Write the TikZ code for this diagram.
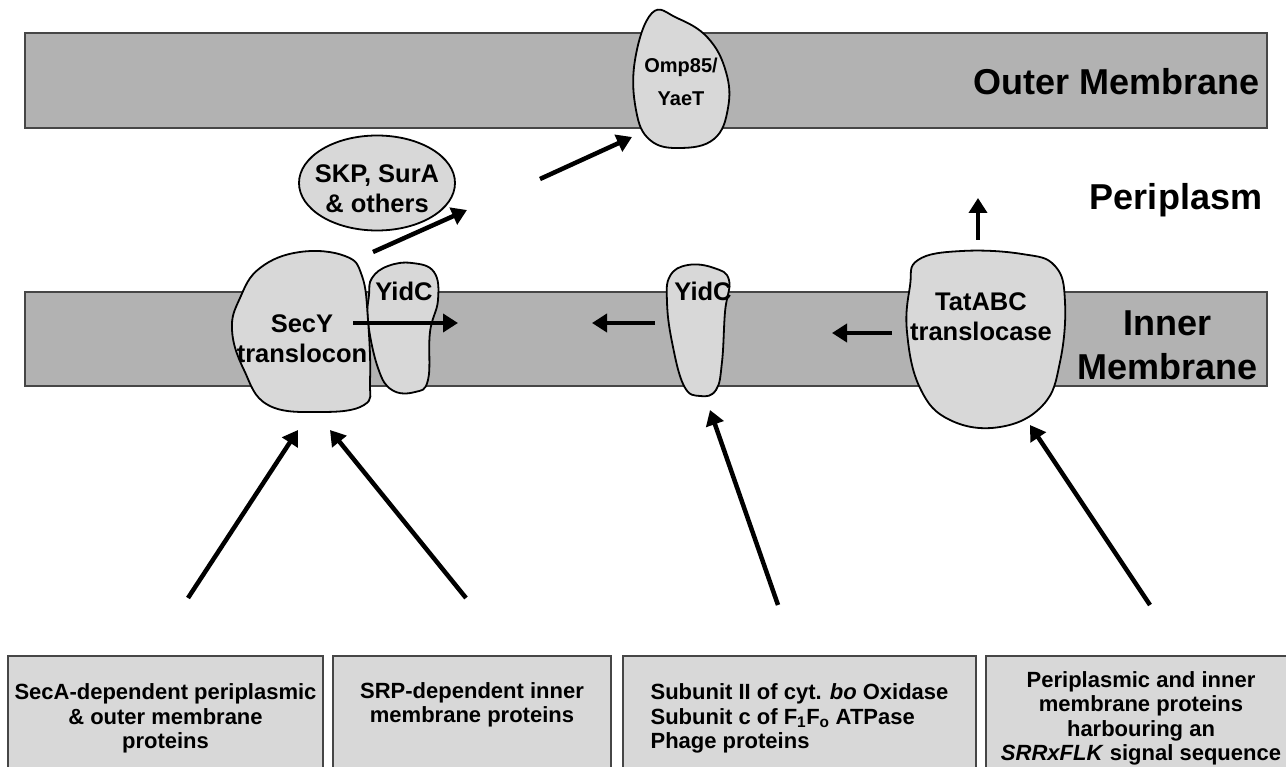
\documentclass[tikz,border=0pt]{standalone}
\usepackage{fontspec}
\setmainfont{Liberation Sans}
\usetikzlibrary{arrows.meta,positioning,shapes.geometric}
\definecolor{mbgray}{RGB}{178,178,178}
\definecolor{protgray}{RGB}{216,216,216}
\definecolor{edgegray}{RGB}{70,70,70}

\begin{document}
\begin{tikzpicture}[x=1pt,y=-1pt,
  membrane/.style={fill=mbgray,draw=edgegray,line width=2pt},
  protein/.style={fill=protgray,draw=black,line width=1.8pt},
  lbl/.style={font=\bfseries\fontsize{25.5}{30}\selectfont,align=center,inner sep=0pt},
  big/.style={font=\bfseries\fontsize{36}{44}\selectfont,align=center,inner sep=0pt},
  srcbox/.style={fill=protgray,draw=edgegray,line width=2pt,anchor=north west,
    minimum height=125pt,inner sep=2pt,font=\bfseries\fontsize{22}{24.5}\selectfont},
  flow/.style={-{Triangle[length=15pt,width=18pt]},line width=4.5pt}]
  \useasboundingbox (0,0) rectangle (1286,767);
  % membranes
  \draw[membrane] (25,33) rectangle (1267,128);
  \draw[membrane] (25,292) rectangle (1267,386);
  % proteins
  \draw[protein] plot[smooth cycle,tension=0.7] coordinates {(652,13) (677,18) (708,38) (726,72)
    (728,108) (714,139) (680,148) (650,140) (636,110) (635,60)};
  \node[protein,ellipse,minimum width=156pt,minimum height=95pt] (skp) at (377,183) {};
  \draw[protein] plot[smooth cycle,tension=0.7] coordinates {(372,278) (388,266) (412,263) (434,272)
    (438,300) (430,332) (428,380) (415,392) (392,390) (378,368) (368,322) (369,295)};
  \draw[protein] plot[smooth cycle,tension=0.7] coordinates {(240,298) (260,268) (300,252) (345,256)
    (362,276) (368,320) (370,380) (364,405) (320,412) (268,405) (244,370) (232,330)};
  \draw[protein] plot[smooth cycle,tension=0.7] coordinates {(670,276) (688,265) (714,268) (729,280)
    (725,312) (722,362) (716,390) (700,396) (684,386) (672,342) (667,302)};
  \draw[protein] plot[smooth cycle,tension=0.7] coordinates {(918,260) (962,251) (1022,254) (1055,266)
    (1065,302) (1060,362) (1043,405) (1000,427) (950,420) (920,388) (907,332) (910,286)};
  % protein names
  \node[lbl,font=\bfseries\fontsize{20}{33}\selectfont] (omp) at (681,82) {Omp85/\\YaeT};
  \node[lbl] (skpname) at (377,189) {SKP, SurA\\\& others};
  \node[lbl] (secy) at (302,339) {SecY\\translocon};
  \node[lbl] (yidcA) at (404,291) {YidC};
  \node[lbl] (yidcB) at (703,291) {YidC};
  \node[lbl] (tat) at (981,317) {TatABC\\translocase};
  % compartments
  \node[big,anchor=base east] (om) at (1260,95) {Outer Membrane};
  \node[big,anchor=base] (peri) at (1176,210) {Periplasm};
  \node[big,anchor=east] (im) at (1258,345) {Inner\\Membrane};
  % substrate classes
  \node[srcbox,minimum width=315pt,align=center] (secA) at (7,655) {SecA-dependent periplasmic\\\& outer membrane\\proteins};
  \node[srcbox,minimum width=278pt,align=center] (srp) at (332,655) {SRP-dependent inner\\membrane proteins\\ \strut};
  \node[srcbox,minimum width=353pt,align=left] (sub) at (622,655) {Subunit II of cyt. \textit{bo} Oxidase\\
    Subunit c of F\textsubscript{1}F\textsubscript{o} ATPase\\Phage proteins};
  \node[srcbox,minimum width=310pt,align=center] (tatsub) at (985,655) {Periplasmic and inner\\membrane proteins\\
    harbouring an\\\textit{SRRxFLK} signal sequence};
  % arrows
  \coordinate (s1) at (188,598); \coordinate (e1) at (298,430);
  \coordinate (s2) at (466,598); \coordinate (e2) at (330,430);
  \coordinate (s3) at (778,605); \coordinate (e3) at (710,410);
  \coordinate (s4) at (1150,605); \coordinate (e4) at (1030,425);
  \foreach \a/\b in {s1/e1,s2/e2,s3/e3,s4/e4}
    \draw[flow] (\a) -- (\b);
  \coordinate (m1) at (353,323); \coordinate (m2) at (458,323);
  \coordinate (m3) at (655,323); \coordinate (m4) at (592,323);
  \coordinate (m5) at (892,333); \coordinate (m6) at (832,333);
  \coordinate (p1) at (373,252); \coordinate (p2) at (467,210);
  \coordinate (p3) at (540,179); \coordinate (p4) at (632,137);
  \coordinate (p5) at (978,240); \coordinate (p6) at (978,198);
  \foreach \a/\b in {m1/m2,m3/m4,m5/m6,p1/p2,p3/p4,p5/p6}
    \draw[flow] (\a) -- (\b);
\end{tikzpicture}
\end{document}
